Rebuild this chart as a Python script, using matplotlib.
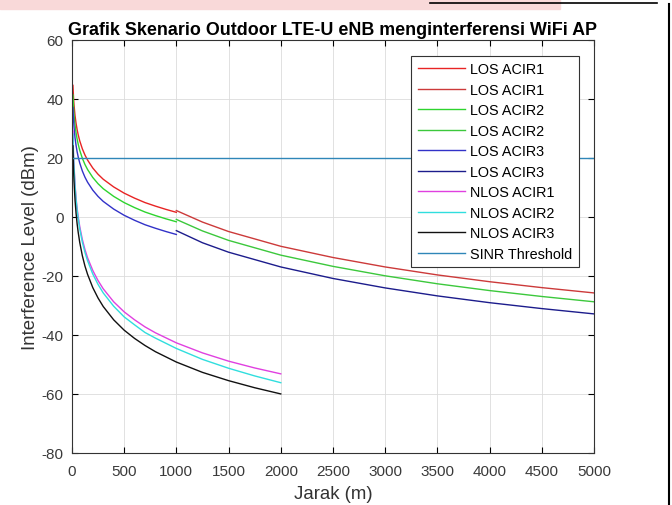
import matplotlib
matplotlib.use("Agg")
import matplotlib.pyplot as plt
from matplotlib.patches import Rectangle
from matplotlib.lines import Line2D

# LOS, before the 1000 m break
d_los1 = [10, 15, 20, 30, 40, 50, 60, 75, 100, 125, 150, 200, 250, 300, 400, 500,
          600, 700, 800, 900, 1000]
los1_a = [44.5, 40.7, 38.0, 34.2, 31.6, 29.5, 27.8, 25.7, 23.0, 20.9, 19.2, 16.5, 14.4,
          12.7, 10.1, 8.0, 6.3, 4.8, 3.6, 2.5, 1.5]
los2_a = [41.3, 37.5, 34.8, 31.0, 28.4, 26.3, 24.6, 22.5, 19.8, 17.7, 16.0, 13.3, 11.2,
          9.5, 6.9, 4.8, 3.1, 1.6, 0.4, -0.7, -1.7]
los3_a = [37.0, 33.2, 30.5, 26.7, 24.1, 22.0, 20.3, 18.2, 15.5, 13.4, 11.7, 9.0, 6.9,
          5.2, 2.6, 0.5, -1.2, -2.7, -3.9, -5.0, -6.0]

# LOS, after the break
d_los2 = [1000, 1250, 1500, 2000, 2500, 3000, 3500, 4000, 4500, 5000]
los1_b = [2.1, -1.8, -5.0, -10.0, -13.8, -17.0, -19.7, -22.0, -24.0, -25.8]
los2_b = [-0.9, -4.8, -8.0, -13.0, -16.8, -20.0, -22.7, -25.0, -27.0, -28.8]
los3_b = [-4.7, -8.8, -12.0, -17.0, -20.9, -24.1, -26.8, -29.1, -31.1, -32.9]

# NLOS
d_nlos = [10, 15, 20, 30, 40, 50, 60, 75, 100, 125, 150, 200, 250, 300, 400, 500,
          600, 700, 800, 1000, 1250, 1500, 1750, 2000]
nlos1 = [29.0, 21.1, 17.5, 11.0, 6.2, 2.8, 0.1, -3.3, -7.7, -11.1, -13.9, -18.2, -21.6,
         -24.4, -28.8, -32.2, -34.9, -37.3, -39.3, -42.7, -46.1, -48.9, -51.2, -53.2]
nlos2 = [28.0, 21.1, 16.6, 10.2, 5.7, 2.2, -0.6, -4.1, -8.6, -12.1, -14.9, -19.4, -22.9,
         -25.8, -30.3, -33.9, -36.6, -39.2, -41.1, -44.6, -48.3, -51.3, -53.9, -56.2]
nlos3 = [24.0, 16.5, 12.0, 5.6, 1.1, -2.4, -5.2, -8.7, -13.2, -16.7, -19.5, -24.0, -27.5,
         -30.4, -34.9, -38.4, -41.2, -43.6, -45.7, -49.2, -52.7, -55.5, -57.9, -60.0]

d_sinr = [0, 5000]
sinr = [20, 20]

plt.rcParams['font.family'] = ['Liberation Sans', 'DejaVu Sans']
plt.rcParams['axes.unicode_minus'] = False

fig = plt.figure(figsize=(6.72, 5.06), dpi=100)
ax = fig.add_axes([0.107, 0.1028, 0.777, 0.817])

lw = 1.0
ax.plot(d_los1, los1_a, color='#e82424', lw=lw, label='LOS ACIR1')
ax.plot(d_los2, los1_b, color='#cc3a3a', lw=lw, label='LOS ACIR1')
ax.plot(d_los1, los2_a, color='#2ed42e', lw=lw, label='LOS ACIR2')
ax.plot(d_los2, los2_b, color='#3cc83c', lw=lw, label='LOS ACIR2')
ax.plot(d_los1, los3_a, color='#3232c8', lw=lw, label='LOS ACIR3')
ax.plot(d_los2, los3_b, color='#1c1c8c', lw=lw, label='LOS ACIR3')
ax.plot(d_nlos, nlos1, color='#e040e0', lw=lw, label='NLOS ACIR1')
ax.plot(d_nlos, nlos2, color='#30dede', lw=lw, label='NLOS ACIR2')
ax.plot(d_nlos, nlos3, color='#111111', lw=lw, label='NLOS ACIR3')
ax.plot(d_sinr, sinr, color='#2f86b8', lw=lw, label='SINR Threshold')

ax.set_xlim(0, 5000)
ax.set_ylim(-80, 60)
ax.set_xticks(range(0, 5001, 500))
ax.set_yticks(range(-80, 61, 20))
ax.grid(True, color='#dcdcdc', lw=0.6)
ax.set_axisbelow(True)
ax.tick_params(direction='in', top=True, right=True, length=4, width=0.8,
               labelsize=11, labelcolor='#3a3a3a', pad=6)
ax.tick_params(axis='x', pad=8)
for s in ax.spines.values():
    s.set_color('#333333')
    s.set_linewidth(0.8)

ax.set_title('Grafik Skenario Outdoor LTE-U eNB menginterferensi WiFi AP',
             fontsize=12.9, fontweight='bold', pad=4)
ax.set_xlabel('Jarak (m)', fontsize=13.4, color='#333333', labelpad=5)
ax.set_ylabel('Interference Level (dBm)', fontsize=13.4, color='#333333', labelpad=2)

leg = ax.legend(loc='upper right', bbox_to_anchor=(0.971, 0.961), fontsize=10.4,
                fancybox=False, framealpha=1, edgecolor='#333333',
                borderaxespad=0, handlelength=3.3, labelspacing=0.45,
                handletextpad=0.35, borderpad=0.45)
leg.get_frame().set_linewidth(0.8)

# screenshot border bits
fig.patches.append(Rectangle((0, 1 - 10 / 506), 560 / 672, 10 / 506,
                             transform=fig.transFigure, color='#f9d9d9', zorder=0))
fig.add_artist(Line2D([430 / 672, 657 / 672], [1 - 4 / 506, 1 - 4 / 506],
                      transform=fig.transFigure, color='black', lw=1.2))
fig.add_artist(Line2D([669 / 672, 669 / 672], [0, 1 - 5 / 506],
                      transform=fig.transFigure, color='black', lw=1.5))

fig.savefig('out.png', dpi=100)
